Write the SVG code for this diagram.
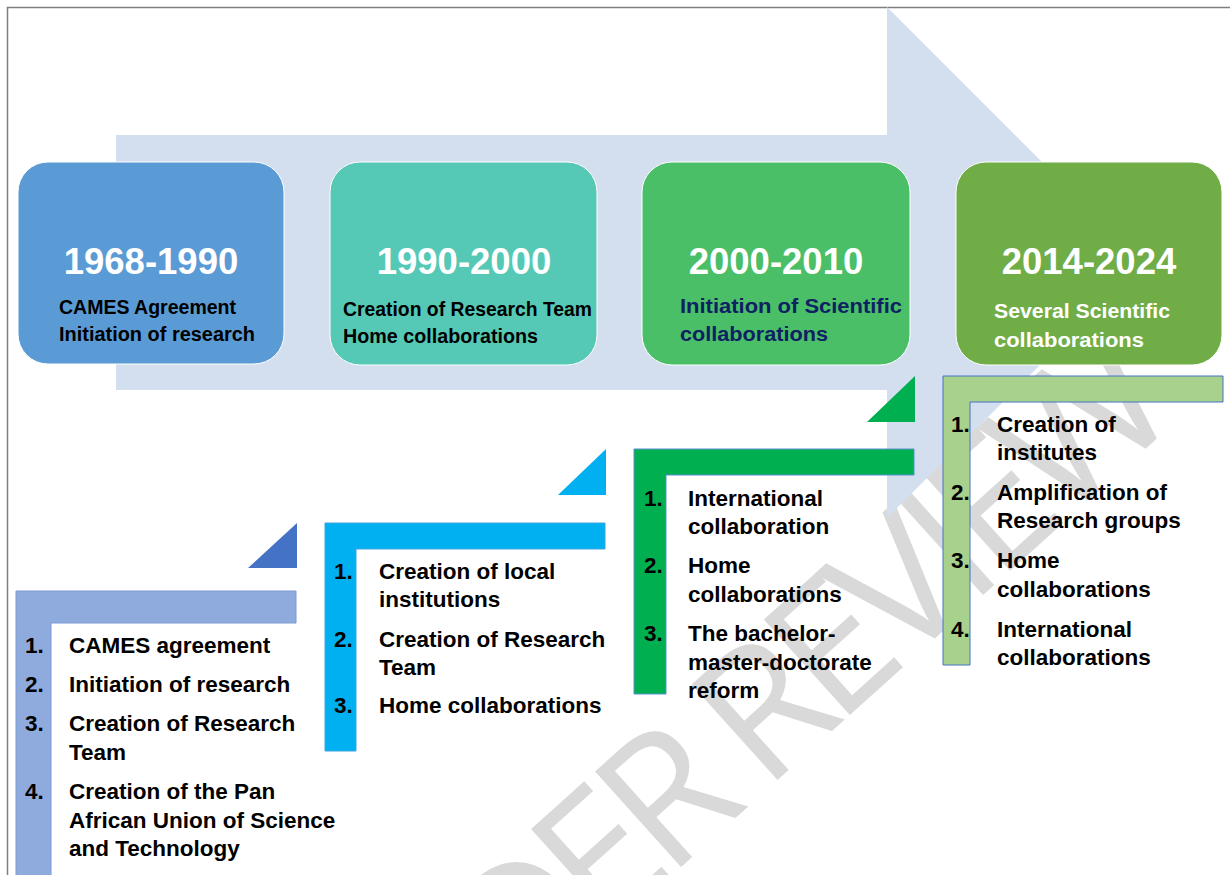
<svg xmlns="http://www.w3.org/2000/svg" width="1230" height="875" viewBox="0 0 1230 875">
<style>
.yr{font-family:"Liberation Sans",Arial,sans-serif;font-weight:bold;font-size:36.5px;fill:#fff;text-anchor:middle}
.sub{font-family:"Liberation Sans",Arial,sans-serif;font-weight:bold;font-size:20px}
.li{font-family:"Liberation Sans",Arial,sans-serif;font-weight:bold;font-size:22.5px;fill:#000}
.wm{font-family:"Open Sans","Liberation Sans",sans-serif;font-size:180px;letter-spacing:-14px;fill:#d9d9d9}
.box{stroke:#fff;stroke-width:1}
</style>
<rect x="0" y="0" width="1230" height="875" fill="#fff"/>
<rect x="7.5" y="7.5" width="1240" height="880" fill="none" stroke="#7f7f7f" stroke-width="1.5"/>
<g id="watermark">
<text class="wm" transform="translate(340,1174) rotate(-42)">UNDER REVIEW</text>
</g>
<g id="connectors">
<polygon id="timeline-arrow" points="116,135 887,135 887,7 1142.5,262.5 887,518 887,390 116,390" fill="#d3deef"/>
<polygon points="248,568 297,523 297,568" fill="#4472c4"/>
<polygon points="558,495 606,449 606,495" fill="#00b0f0"/>
<polygon points="867,422 915,376 915,422" fill="#00b050"/>
</g>
<g id="node-1968">
<rect class="box" x="18" y="162" width="266" height="202" rx="30" fill="#5b9bd5"/>
<text class="yr" x="151" y="274">1968-1990</text>
<text class="sub" x="59" y="314" textLength="177" lengthAdjust="spacingAndGlyphs">CAMES Agreement</text>
<text class="sub" x="59" y="341" textLength="196" lengthAdjust="spacingAndGlyphs">Initiation of research</text>
</g>
<g id="node-1990">
<rect class="box" x="330" y="162" width="267" height="203" rx="30" fill="#55c9b6"/>
<text class="yr" x="464" y="274">1990-2000</text>
<text class="sub" x="343" y="316" textLength="249" lengthAdjust="spacingAndGlyphs">Creation of Research Team</text>
<text class="sub" x="343" y="343" textLength="195" lengthAdjust="spacingAndGlyphs">Home collaborations</text>
</g>
<g id="node-2000">
<rect class="box" x="642" y="162" width="268" height="203" rx="30" fill="#4abf67"/>
<text class="yr" x="776" y="274">2000-2010</text>
<text class="sub" x="680" y="313" fill="#0e2263" textLength="222" lengthAdjust="spacingAndGlyphs">Initiation of Scientific</text>
<text class="sub" x="680" y="341" fill="#0e2263" textLength="148" lengthAdjust="spacingAndGlyphs">collaborations</text>
</g>
<g id="node-2014">
<rect class="box" x="956" y="162" width="266" height="203" rx="30" fill="#70ad47"/>
<text class="yr" x="1089" y="274">2014-2024</text>
<text class="sub" x="994" y="318" fill="#fff" textLength="176" lengthAdjust="spacingAndGlyphs">Several Scientific</text>
<text class="sub" x="994" y="347" fill="#fff" textLength="150" lengthAdjust="spacingAndGlyphs">collaborations</text>
</g>
<g id="list-1">
<polygon points="16,591 296,591 296,623 51,623 51,880 16,880" fill="#8faadc" stroke="#7a9bd6" stroke-width="1"/>
<text class="li" x="25" y="653">1.</text><text class="li" x="69" y="653">CAMES agreement</text>
<text class="li" x="25" y="692">2.</text><text class="li" x="69" y="692">Initiation of research</text>
<text class="li" x="25" y="731">3.</text><text class="li" x="69" y="731">Creation of Research</text>
<text class="li" x="69" y="759.5">Team</text>
<text class="li" x="25" y="799">4.</text><text class="li" x="69" y="799">Creation of the Pan</text>
<text class="li" x="69" y="827.5">African Union of Science</text>
<text class="li" x="69" y="856">and Technology</text>
</g>
<g id="list-2">
<polygon points="325,523 605,523 605,549 356,549 356,751 325,751" fill="#00b0f0" stroke="#3aa6e0" stroke-width="1"/>
<text class="li" x="334" y="579">1.</text><text class="li" x="379" y="579">Creation of local</text>
<text class="li" x="379" y="607">institutions</text>
<text class="li" x="334" y="647">2.</text><text class="li" x="379" y="647">Creation of Research</text>
<text class="li" x="379" y="675">Team</text>
<text class="li" x="334" y="713">3.</text><text class="li" x="379" y="713">Home collaborations</text>
</g>
<g id="list-3">
<polygon points="634,449 914,449 914,475 666,475 666,694 634,694" fill="#00b050" stroke="#5b8fd0" stroke-width="1"/>
<text class="li" x="644" y="506">1.</text><text class="li" x="688" y="506">International</text>
<text class="li" x="688" y="534">collaboration</text>
<text class="li" x="644" y="573">2.</text><text class="li" x="688" y="573">Home</text>
<text class="li" x="688" y="602">collaborations</text>
<text class="li" x="644" y="641">3.</text><text class="li" x="688" y="641">The bachelor-</text>
<text class="li" x="688" y="670">master-doctorate</text>
<text class="li" x="688" y="698">reform</text>
</g>
<g id="list-4">
<polygon points="943,376 1223,376 1223,402 970,402 970,665 943,665" fill="#a9d18e" stroke="#4472c4" stroke-width="1"/>
<text class="li" x="951" y="432">1.</text><text class="li" x="997" y="432">Creation of</text>
<text class="li" x="997" y="460">institutes</text>
<text class="li" x="951" y="500">2.</text><text class="li" x="997" y="500">Amplification of</text>
<text class="li" x="997" y="528">Research groups</text>
<text class="li" x="951" y="568">3.</text><text class="li" x="997" y="568">Home</text>
<text class="li" x="997" y="597">collaborations</text>
<text class="li" x="951" y="637">4.</text><text class="li" x="997" y="637">International</text>
<text class="li" x="997" y="665">collaborations</text>
</g>
</svg>
